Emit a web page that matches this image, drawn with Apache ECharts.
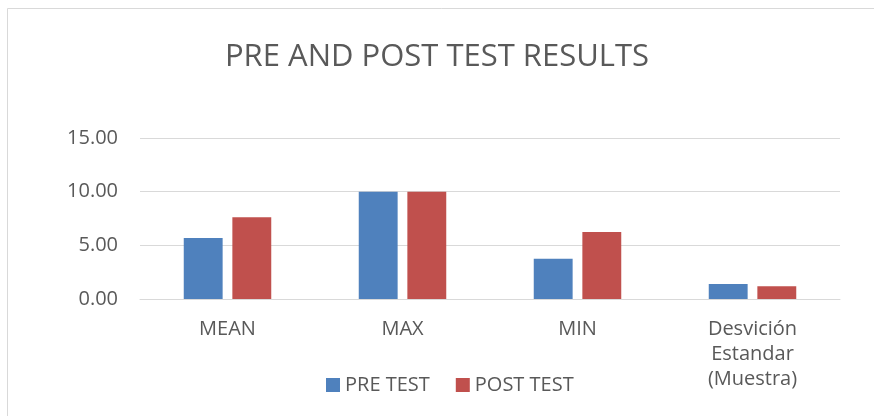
<!DOCTYPE html>
<html>
<head>
<meta charset="utf-8">
<script src="https://cdn.jsdelivr.net/npm/echarts@6/dist/echarts.min.js"></script>
<style>
  html, body { margin: 0; padding: 0; background: #fff; }
  #chart { width: 874px; height: 416px; }
</style>
</head>
<body>
<div id="chart"></div>
<script>
var categories = ['MEAN', 'MAX', 'MIN', 'Desvición\nEstandar\n(Muestra)'];
var preTest = [5.68, 10.00, 3.75, 1.40];
var postTest = [7.61, 10.00, 6.24, 1.19];
var seriesNames = ['PRE TEST', 'POST TEST'];

var myChart = echarts.init(document.getElementById('chart'));
var font = '"Open Sans", Calibri, sans-serif';

myChart.setOption({
  animation: false,
  backgroundColor: '#fff',
  graphic: [{
    type: 'rect',
    shape: { x: 7.5, y: 8.5, width: 900, height: 450 },
    style: { fill: 'none', stroke: '#d9d9d9', lineWidth: 1 }
  }],
  title: {
    text: 'PRE AND POST TEST RESULTS',
    left: 'center',
    top: 37,
    textStyle: { color: '#595959', fontSize: 31, fontWeight: 'normal', fontFamily: font }
  },
  legend: {
    data: seriesNames,
    left: 321,
    top: 370,
    itemWidth: 14,
    itemHeight: 14,
    itemGap: 26,
    icon: 'rect',
    textStyle: { color: '#595959', fontSize: 20, fontFamily: font }
  },
  grid: { left: 140, right: 34, top: 138, bottom: 117 },
  xAxis: {
    type: 'category',
    data: categories,
    axisLine: { lineStyle: { color: '#d9d9d9', width: 1 } },
    axisTick: { show: false },
    axisLabel: { color: '#595959', fontSize: 20, fontFamily: font, margin: 18, lineHeight: 25 }
  },
  yAxis: {
    type: 'value',
    min: 0,
    max: 15,
    interval: 5,
    axisLine: { show: false },
    axisTick: { show: false },
    splitLine: { lineStyle: { color: '#d9d9d9', width: 1 } },
    axisLabel: {
      color: '#595959', fontSize: 20, fontFamily: font, margin: 22,
      formatter: function (v) { return v.toFixed(2); }
    }
  },
  series: [
    {
      name: seriesNames[0],
      type: 'bar',
      data: preTest,
      barGap: '25%',
      barCategoryGap: '50%',
      itemStyle: { color: '#4f81bd' }
    },
    {
      name: seriesNames[1],
      type: 'bar',
      data: postTest,
      itemStyle: { color: '#c0504d' }
    }
  ]
});
</script>
</body>
</html>
